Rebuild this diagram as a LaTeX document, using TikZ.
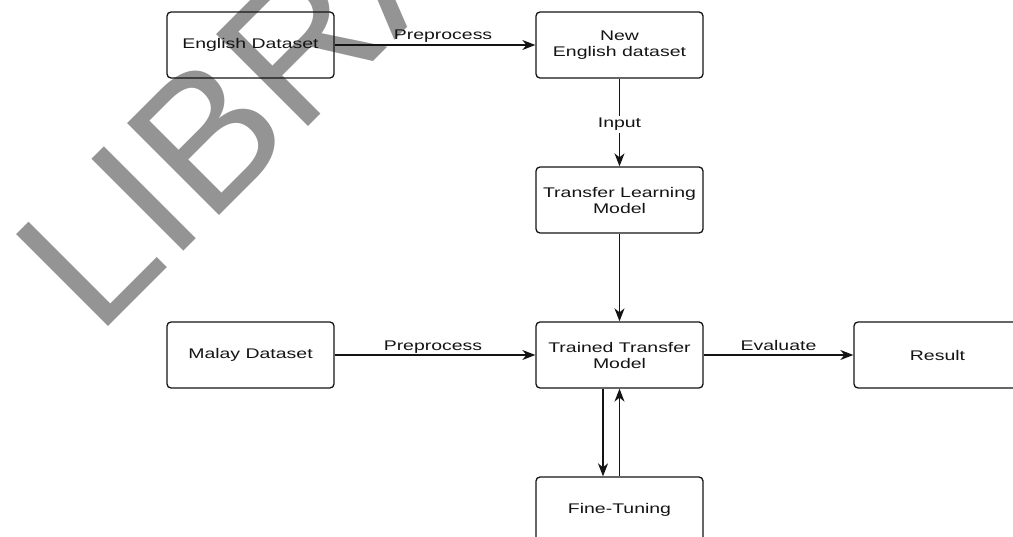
\documentclass[tikz,border=0pt]{standalone}
\usepackage{fontspec}
\setmainfont{Liberation Sans}[FakeStretch=1.39]
\newfontfamily\wmfont{Liberation Sans}
\usetikzlibrary{arrows.meta}
\definecolor{wmgray}{RGB}{148,148,148}
\definecolor{ink}{RGB}{20,20,20}
\tikzset{
  box/.style={draw=ink, line width=1.3pt, rounded corners=4pt, minimum width=167pt,
    minimum height=66pt, inner sep=0pt, align=center, text=ink,
    font=\fontsize{14}{16}\selectfont},
  arr/.style={draw=ink, line width=1.4pt, -{Stealth[length=13pt,width=10pt,inset=4pt]}},
  lbl/.style={inner sep=0pt, text=ink, font=\fontsize{14}{16}\selectfont},
  wm/.style={inner sep=0pt, text=wmgray, font=\wmfont\fontsize{189}{189}\selectfont}
}
\begin{document}
\begin{tikzpicture}[x=1pt,y=-1pt]
\useasboundingbox (0,0) rectangle (1013,537);
\clip (0,0) rectangle (1013,537);
% watermark
\node[wm, anchor=base west, rotate=45] (watermark) at (97,338) {LIBRARY};
% boxes
\node[box] (eng) at (250.5,45) {English Dataset};
\node[box] (new) at (619.5,45) {New\\English dataset};
\node[box] (tlm) at (619.5,200) {Transfer Learning\\Model};
\node[box] (ttm) at (619.5,355) {Trained Transfer\\Model};
\node[box] (malay) at (250.5,355) {Malay Dataset};
\node[box] (res) at (937.5,355) {Result};
\node[box] (ft) at (619.5,510) {Fine-Tuning};
% connectors
\draw[arr] (eng) -- node[lbl, pos=0.54, anchor=base, yshift=5pt] (l1) {Preprocess} (new);
\draw[arr] (new) -- node[lbl, fill=white, inner sep=2pt, yshift=-2pt] (l2) {Input} (tlm);
\draw[arr] (tlm) -- (ttm);
\draw[arr] (malay) -- node[lbl, pos=0.49, anchor=base, yshift=4pt] (l3) {Preprocess} (ttm);
\draw[arr] (ttm) -- node[lbl, anchor=base, yshift=4pt] (l4) {Evaluate} (res);
\draw[arr] ([xshift=-16.5pt]ttm.south) -- ([xshift=-16.5pt]ft.north);
\draw[arr] (ft.north) -- (ttm.south);
\end{tikzpicture}
\end{document}
